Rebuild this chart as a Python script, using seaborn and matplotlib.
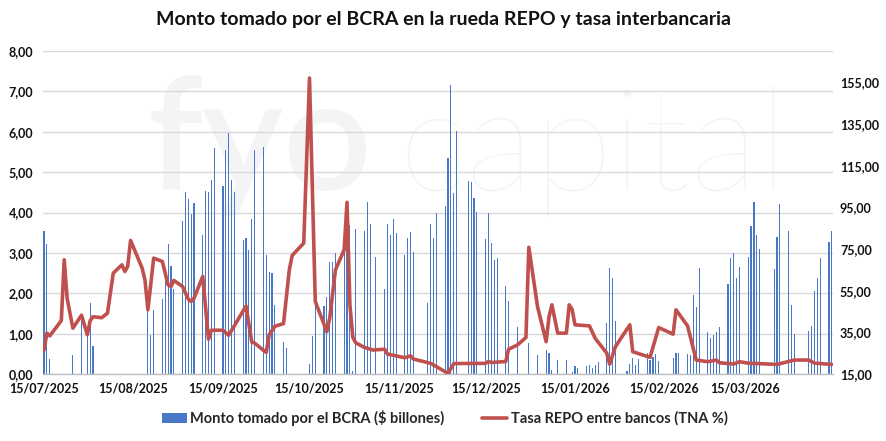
import matplotlib
matplotlib.use("Agg")
import matplotlib.pyplot as plt
import matplotlib.dates as mdates
from matplotlib import font_manager
from matplotlib.ticker import FuncFormatter, FixedLocator
from matplotlib.patches import Patch
from matplotlib.lines import Line2D
import seaborn as sns
import pandas as pd

# ---------------- data ----------------
bar_dates = [
    "2025-07-15", "2025-07-16", "2025-07-17", "2025-07-25", "2025-07-28", "2025-07-30", "2025-07-31", "2025-08-01",
    "2025-08-20", "2025-08-21", "2025-08-22", "2025-08-25", "2025-08-26", "2025-08-27", "2025-08-28", "2025-08-29",
    "2025-09-01", "2025-09-02", "2025-09-03", "2025-09-04", "2025-09-05", "2025-09-08", "2025-09-09", "2025-09-10",
    "2025-09-11", "2025-09-12", "2025-09-15", "2025-09-16", "2025-09-17", "2025-09-18", "2025-09-19", "2025-09-22",
    "2025-09-23", "2025-09-24", "2025-09-25", "2025-09-26", "2025-09-29", "2025-09-30", "2025-10-01", "2025-10-02",
    "2025-10-03", "2025-10-06", "2025-10-07", "2025-10-15", "2025-10-16", "2025-10-17", "2025-10-20", "2025-10-21",
    "2025-10-22", "2025-10-23", "2025-10-24", "2025-10-27", "2025-10-28", "2025-10-29", "2025-10-30", "2025-10-31",
    "2025-11-03", "2025-11-04", "2025-11-05", "2025-11-07", "2025-11-10", "2025-11-11", "2025-11-12", "2025-11-13",
    "2025-11-14", "2025-11-17", "2025-11-18", "2025-11-19", "2025-11-20", "2025-11-25", "2025-11-26", "2025-11-27",
    "2025-11-28", "2025-12-01", "2025-12-02", "2025-12-03", "2025-12-04", "2025-12-05", "2025-12-09", "2025-12-10",
    "2025-12-11", "2025-12-12", "2025-12-15", "2025-12-16", "2025-12-17", "2025-12-18", "2025-12-19", "2025-12-22",
    "2025-12-23", "2025-12-26", "2025-12-30", "2026-01-02", "2026-01-05", "2026-01-06", "2026-01-07", "2026-01-09",
    "2026-01-12", "2026-01-14", "2026-01-15", "2026-01-16", "2026-01-19", "2026-01-20", "2026-01-21", "2026-01-22",
    "2026-01-23", "2026-01-26", "2026-01-27", "2026-01-28", "2026-01-29", "2026-02-02", "2026-02-03", "2026-02-04",
    "2026-02-05", "2026-02-06", "2026-02-09", "2026-02-10", "2026-02-11", "2026-02-12", "2026-02-13", "2026-02-18",
    "2026-02-19", "2026-02-20", "2026-02-23", "2026-02-24", "2026-02-25", "2026-02-26", "2026-02-27", "2026-03-02",
    "2026-03-03", "2026-03-04", "2026-03-05", "2026-03-06", "2026-03-09", "2026-03-10", "2026-03-11", "2026-03-12",
    "2026-03-13", "2026-03-16", "2026-03-17", "2026-03-18", "2026-03-19", "2026-03-20", "2026-03-25", "2026-03-26",
    "2026-03-27", "2026-03-30", "2026-03-31", "2026-04-01", "2026-04-06", "2026-04-07", "2026-04-08", "2026-04-09",
    "2026-04-10", "2026-04-13", "2026-04-14",
]
bar_values = [
    3.53, 3.22, 0.38, 0.46, 1.45, 1.03, 1.75, 0.70,
    1.58, 0.97, 1.58, 1.85, 2.40, 3.22, 2.68, 2.10,
    3.78, 4.50, 4.33, 3.97, 4.23, 3.44, 4.54, 4.52,
    4.80, 5.60, 4.66, 5.56, 5.98, 4.80, 4.50, 3.32,
    3.38, 3.08, 3.84, 5.56, 5.63, 2.94, 2.52, 2.50,
    1.72, 0.79, 0.65, 0.24, 0.95, 1.76, 1.68, 1.91,
    2.77, 2.77, 2.99, 3.30, 4.20, 3.70, 0.07, 3.60,
    3.55, 4.25, 3.72, 2.91, 2.10, 3.72, 3.44, 3.84,
    3.49, 2.94, 3.37, 3.52, 3.01, 1.77, 3.72, 3.37,
    3.99, 4.16, 5.35, 7.15, 4.48, 6.01, 4.78, 4.75,
    4.36, 4.02, 3.35, 3.98, 3.25, 2.83, 2.88, 2.19,
    1.82, 1.17, 0.77, 0.48, 0.59, 0.52, 0.11, 0.34,
    0.34, 0.04, 0.20, 0.15, 0.20, 0.22, 0.15, 0.23,
    0.30, 1.26, 2.63, 2.38, 1.32, 0.07, 0.24, 0.39,
    0.23, 0.37, 0.52, 0.35, 0.43, 0.50, 0.32, 0.40,
    0.52, 0.52, 0.49, 0.47, 1.95, 1.65, 2.62, 1.05,
    0.90, 0.97, 1.03, 1.16, 2.23, 2.87, 3.00, 2.37,
    2.64, 2.89, 3.67, 4.26, 3.45, 3.09, 2.60, 3.40,
    4.20, 3.53, 1.71, 0.98, 1.07, 1.20, 2.06, 2.37,
    2.87, 3.28, 3.53,
]

rate_dates = [
    "2025-07-15", "2025-07-16", "2025-07-17", "2025-07-21", "2025-07-22", "2025-07-23", "2025-07-25", "2025-07-28",
    "2025-07-30", "2025-07-31", "2025-08-01", "2025-08-04", "2025-08-06", "2025-08-08", "2025-08-11", "2025-08-12",
    "2025-08-13", "2025-08-14", "2025-08-18", "2025-08-19", "2025-08-20", "2025-08-22", "2025-08-25", "2025-08-27",
    "2025-08-28", "2025-08-29", "2025-09-01", "2025-09-03", "2025-09-04", "2025-09-05", "2025-09-08", "2025-09-10",
    "2025-09-11", "2025-09-15", "2025-09-17", "2025-09-23", "2025-09-25", "2025-09-26", "2025-09-30", "2025-10-01",
    "2025-10-03", "2025-10-06", "2025-10-08", "2025-10-09", "2025-10-13", "2025-10-15", "2025-10-17", "2025-10-21",
    "2025-10-22", "2025-10-24", "2025-10-27", "2025-10-28", "2025-10-29", "2025-10-30", "2025-10-31", "2025-11-03",
    "2025-11-06", "2025-11-10", "2025-11-11", "2025-11-17", "2025-11-19", "2025-11-20", "2025-11-26", "2025-12-02",
    "2025-12-04", "2025-12-15", "2025-12-16", "2025-12-17", "2025-12-22", "2025-12-23", "2025-12-26", "2025-12-29",
    "2025-12-30", "2026-01-02", "2026-01-05", "2026-01-06", "2026-01-07", "2026-01-09", "2026-01-12", "2026-01-13",
    "2026-01-14", "2026-01-15", "2026-01-20", "2026-01-22", "2026-01-26", "2026-01-27", "2026-01-29", "2026-02-03",
    "2026-02-04", "2026-02-10", "2026-02-13", "2026-02-18", "2026-02-19", "2026-02-23", "2026-02-26", "2026-03-02",
    "2026-03-05", "2026-03-06", "2026-03-11", "2026-03-13", "2026-03-16", "2026-03-26", "2026-04-01", "2026-04-06",
    "2026-04-08", "2026-04-14",
]
rate_values = [
    26.5, 34.6, 33.3, 40.6, 69.8, 51.4, 37.0, 43.2,
    33.8, 40.6, 42.5, 42.0, 44.2, 63.4, 67.4, 64.2,
    66.6, 79.1, 65.8, 60.0, 45.8, 70.6, 69.0, 57.8,
    57.0, 59.9, 57.0, 50.9, 49.8, 51.4, 61.8, 31.7,
    36.0, 36.0, 33.6, 47.6, 30.3, 29.8, 25.3, 33.8,
    37.9, 39.2, 65.0, 71.9, 77.8, 157.0, 49.8, 35.3,
    41.8, 65.0, 74.6, 97.4, 48.2, 32.6, 30.0, 27.8,
    26.5, 26.9, 24.6, 22.8, 23.7, 22.2, 20.1, 15.3,
    20.0, 20.1, 21.0, 20.5, 21.0, 26.9, 28.9, 32.5,
    75.8, 47.4, 30.5, 42.5, 48.2, 34.6, 34.6, 48.2,
    46.0, 38.6, 38.1, 32.1, 25.0, 19.7, 28.1, 38.6,
    25.7, 23.0, 37.3, 34.1, 45.8, 38.1, 21.7, 20.9,
    21.7, 20.4, 19.8, 20.9, 20.2, 19.6, 21.7, 21.7,
    20.2, 19.6,
]

tick_dates = ["2025-07-15", "2025-08-15", "2025-09-15", "2025-10-15", "2025-11-15",
              "2025-12-15", "2026-01-15", "2026-02-15", "2026-03-15"]
left_ticks = [0, 1, 2, 3, 4, 5, 6, 7, 8]
right_ticks = [15, 35, 55, 75, 95, 115, 135, 155]

title = "Monto tomado por el BCRA en la rueda REPO y tasa interbancaria"
bar_label = "Monto tomado por el BCRA ($ billones)"
line_label = "Tasa REPO entre bancos (TNA %)"

BAR_COLOR = "#4a78c8"
LINE_COLOR = "#C0504D"
WM_COLOR = "#f3f4f6"

# ---------------- plot ----------------
sns.set_theme(style="white")
plt.rcParams["font.family"] = ["Lato", "DejaVu Sans"]

installed = {f.name for f in font_manager.fontManager.ttflist}
if "Liberation Sans Narrow" in installed:
    tick_family = ["Liberation Sans Narrow", "Lato", "DejaVu Sans"]
    tick_size = 10
else:
    tick_family = ["Lato", "DejaVu Sans"]
    tick_size = 9

bx = mdates.date2num(pd.to_datetime(bar_dates).to_pydatetime())
lx = mdates.date2num(pd.to_datetime(rate_dates).to_pydatetime())
tx = mdates.date2num(pd.to_datetime(tick_dates).to_pydatetime())

fig = plt.figure(figsize=(8.86, 4.41), dpi=100)
ax = fig.add_axes([43 / 886, 1 - 374 / 441, (833 - 43) / 886, (374 - 51) / 441])

# faint watermark
ax.text(148 / 886, 1 - 190 / 441, "fyo", transform=fig.transFigure, fontsize=112,
        fontweight="semibold", color=WM_COLOR, zorder=0, ha="left", va="baseline", clip_on=True)
ax.text(398 / 886, 1 - 190 / 441, "capital", transform=fig.transFigure, fontsize=104,
        fontweight="light", color=WM_COLOR, zorder=0, ha="left", va="baseline", clip_on=True)

bdf = pd.DataFrame({"x": bx, "monto": bar_values})
sns.barplot(data=bdf, x="x", y="monto", native_scale=True, width=0.4, color=BAR_COLOR,
            saturation=1, errorbar=None, linewidth=0, ax=ax, zorder=2)

ax.set_axisbelow(True)
ax.yaxis.grid(True, color="#d9d9d9", linewidth=1.0)
ax.xaxis.grid(False)
ax.set_ylim(0, 8)
ax.yaxis.set_major_locator(FixedLocator(left_ticks))
fmt = FuncFormatter(lambda v, p: f"{v:.2f}".replace(".", ","))
ax.yaxis.set_major_formatter(fmt)
ax.set_xlim(mdates.date2num(pd.Timestamp("2025-07-15")) - 0.35,
            mdates.date2num(pd.Timestamp("2026-04-14")) + 0.4)
ax.xaxis.set_major_locator(FixedLocator(tx))
ax.xaxis.set_major_formatter(mdates.DateFormatter("%d/%m/%Y"))
ax.set_xlabel("")
ax.set_ylabel("")
for s in ["top", "right", "left"]:
    ax.spines[s].set_visible(False)
ax.spines["bottom"].set_color("#bfbfbf")
ax.spines["bottom"].set_linewidth(1.0)
ax.tick_params(axis="x", which="major", length=4, color="#bfbfbf", pad=2)
ax.tick_params(axis="y", length=0, pad=7)
for lab in ax.get_xticklabels() + ax.get_yticklabels():
    lab.set_fontweight("bold")
    lab.set_fontfamily(tick_family)
    lab.set_fontsize(tick_size)
    lab.set_color("#111111")

ax2 = ax.twinx()
ldf = pd.DataFrame({"x": lx, "tasa": rate_values})
sns.lineplot(data=ldf, x="x", y="tasa", ax=ax2, color=LINE_COLOR, linewidth=2.6, zorder=3)
ax2.set_ylim(15, 170)
ax2.yaxis.set_major_locator(FixedLocator(right_ticks))
ax2.yaxis.set_major_formatter(fmt)
ax2.set_xlim(ax.get_xlim())
ax2.set_xlabel("")
ax2.set_ylabel("")
for s in ["top", "right", "left", "bottom"]:
    ax2.spines[s].set_visible(False)
ax2.tick_params(axis="y", length=0, pad=5)
for lab in ax2.get_yticklabels():
    lab.set_fontweight("bold")
    lab.set_fontfamily(tick_family)
    lab.set_fontsize(tick_size)
    lab.set_color("#111111")

fig.suptitle(title, x=0.5, y=0.975, fontsize=14, fontweight="bold", color="#111111", va="top")

handles = [Patch(facecolor=BAR_COLOR, edgecolor="none"),
           Line2D([0], [0], color=LINE_COLOR, linewidth=2.6)]
fig.legend(handles, [bar_label, line_label], loc="center", bbox_to_anchor=(0.502, 1 - 418 / 441),
           ncol=2, frameon=False, prop={"weight": "bold", "size": 10.5}, columnspacing=2.6,
           handlelength=1.7, handletextpad=0.25)

fig.savefig("out.png", dpi=100, facecolor="white")
